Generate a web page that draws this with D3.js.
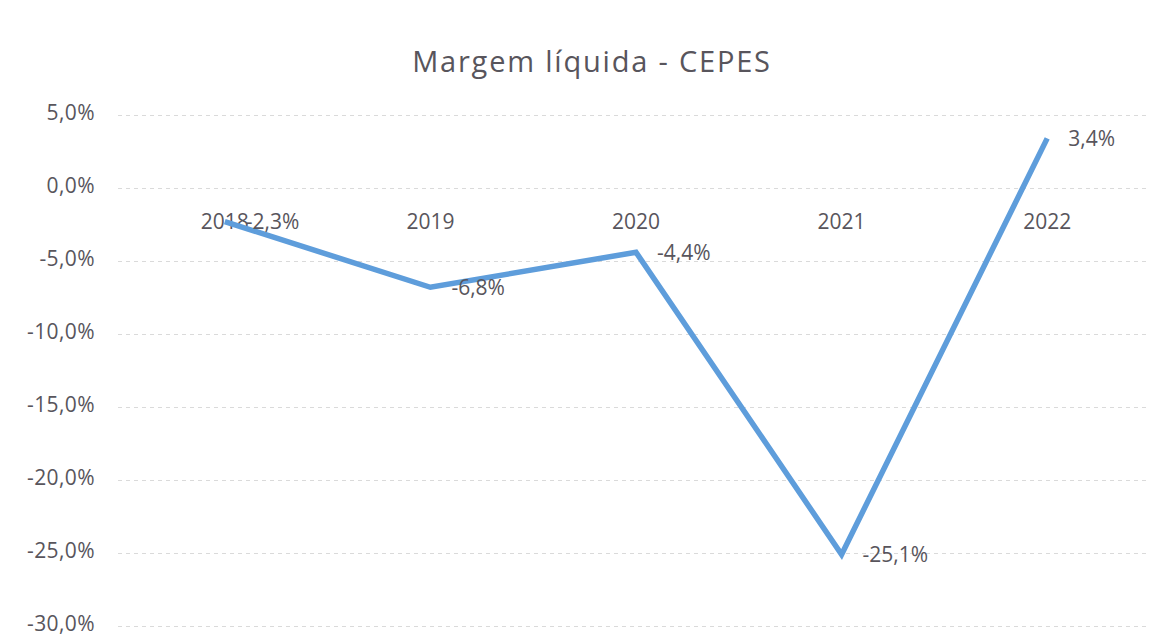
<!DOCTYPE html>
<html>
<head>
<meta charset="utf-8">
<script src="https://cdn.jsdelivr.net/npm/d3@7"></script>
<style>
  body { margin: 0; background: #fff; }
  svg { display: block; font-family: "Open Sans", "Noto Sans", sans-serif; }
  .grid line { stroke: #dadada; stroke-width: 1; stroke-dasharray: 4,4; }
  .lbl { fill: #58555c; }
</style>
</head>
<body>
<div id="chart"></div>
<script>
var title = "Margem líquida - CEPES";
var years = ["2018", "2019", "2020", "2021", "2022"];
var margins = [-2.3, -6.8, -4.4, -25.1, 3.4];
var yTicks = [5, 0, -5, -10, -15, -20, -25, -30];

var W = 1149, H = 638;
var fmt = function (v, d) { return v.toFixed(d).replace(".", ",") + "%"; };

var svg = d3.select("#chart").append("svg")
    .attr("width", W)
    .attr("height", H);

var x = d3.scaleBand()
    .domain(years)
    .range([122, 1150])
    .padding(0);

var y = d3.scaleLinear()
    .domain([-30, 5])
    .range([626, 115]);

function cx(d) { return x(d) + x.bandwidth() / 2; }

// gridlines
svg.append("g").attr("class", "grid")
  .selectAll("line")
    .data(yTicks)
  .enter().append("line")
    .attr("x1", 118)
    .attr("x2", W)
    .attr("y1", function (d) { return Math.round(y(d)) + 0.5; })
    .attr("y2", function (d) { return Math.round(y(d)) + 0.5; });

// y labels
svg.append("g")
  .selectAll("text")
    .data(yTicks)
  .enter().append("text")
    .attr("class", "lbl")
    .attr("x", 95)
    .attr("y", function (d) { return y(d); })
    .attr("dy", "0.22em")
    .attr("text-anchor", "end")
    .style("font-size", "21px")
    .style("letter-spacing", "0.4px")
    .text(function (d) { return fmt(d, 1); });

// category labels, sitting just under the zero line
svg.append("g")
  .selectAll("text")
    .data(years)
  .enter().append("text")
    .attr("class", "lbl")
    .attr("x", cx)
    .attr("y", y(0) + 41)
    .attr("text-anchor", "middle")
    .style("font-size", "21px")
    .text(function (d) { return d; });

// the line
var pts = years.map(function (yr, i) { return { year: yr, v: margins[i] }; });
var line = d3.line()
    .x(function (d) { return cx(d.year); })
    .y(function (d) { return y(d.v); });

svg.append("path")
    .datum(pts)
    .attr("d", line)
    .attr("fill", "none")
    .attr("stroke", "#5e9ddb")
    .attr("stroke-width", 5.5)
    .attr("stroke-linejoin", "miter");

// value labels to the right of each point
svg.append("g")
  .selectAll("text")
    .data(pts)
  .enter().append("text")
    .attr("class", "lbl")
    .attr("x", function (d) { return cx(d.year) + 21; })
    .attr("y", function (d) { return y(d.v); })
    .attr("dy", "0.36em")
    .style("font-size", "21px")
    .text(function (d) { return fmt(d.v, 1); });

svg.append("text")
    .attr("class", "lbl")
    .attr("x", 592)
    .attr("y", 72)
    .attr("text-anchor", "middle")
    .style("font-size", "29px")
    .style("letter-spacing", "1.8px")
    .text(title);
</script>
</body>
</html>
